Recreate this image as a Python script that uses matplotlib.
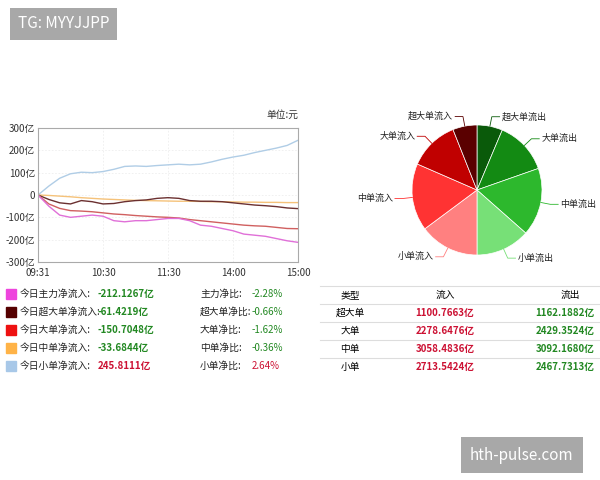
import matplotlib
matplotlib.use("Agg")
import matplotlib.pyplot as plt
import numpy as np

plt.rcParams['font.family'] = ['Noto Sans CJK SC', 'DejaVu Sans']

minutes = list(range(0, 241, 10))
xtick_pos = [0, 60, 120, 180, 240]
xtick_labels = ["09:31", "10:30", "11:30", "14:00", "15:00"]
small = [0, 40, 75, 95, 102, 100, 105, 115, 128, 130, 128, 132, 135, 138, 135, 138, 148, 160, 170, 178, 190, 200, 210, 222, 245]
main = [0, -50, -90, -100, -95, -90, -95, -115, -120, -115, -115, -110, -105, -105, -115, -135, -140, -150, -160, -175, -180, -185, -195, -205, -212]
large = [0, -40, -60, -70, -72, -75, -80, -85, -88, -92, -95, -98, -100, -103, -110, -115, -120, -125, -130, -135, -138, -140, -145, -150, -151]
xlarge = [0, -20, -35, -40, -25, -30, -40, -38, -30, -25, -22, -15, -12, -15, -25, -28, -28, -30, -35, -40, -45, -48, -52, -58, -61]
medium = [0, -2, -5, -8, -12, -15, -18, -20, -22, -24, -25, -26, -27, -28, -28, -29, -30, -30, -31, -32, -32, -33, -33, -34, -34]

legend_labels = ["今日主力净流入:", "今日超大单净流入:", "今日大单净流入:", "今日中单净流入:", "今日小单净流入:"]
legend_values = ["-212.1267亿", "-61.4219亿", "-150.7048亿", "-33.6844亿", "245.8111亿"]
ratio_labels = ["主力净比:", "超大单净比:", "大单净比:", "中单净比:", "小单净比:"]
ratio_values = ["-2.28%", "-0.66%", "-1.62%", "-0.36%", "2.64%"]
legend_colors = ["#ee44dd", "#550000", "#ee1111", "#ffb347", "#a8c8e8"]

pie_labels = ["超大单流出", "大单流出", "中单流出", "小单流出", "小单流入", "中单流入", "大单流入", "超大单流入"]
pie_values = [1162.1882, 2429.3524, 3092.1680, 2467.7313, 2713.5424, 3058.4836, 2278.6476, 1100.7663]
pie_colors = ["#0a5a0a", "#138a13", "#2db82d", "#77e077", "#ff8080", "#ff3333", "#c00000", "#5a0000"]

table_types = ["超大单", "大单", "中单", "小单"]
table_in = ["1100.7663亿", "2278.6476亿", "3058.4836亿", "2713.5424亿"]
table_out = ["1162.1882亿", "2429.3524亿", "3092.1680亿", "2467.7313亿"]

fig = plt.figure(figsize=(6, 4.8), dpi=100)
W, H = 600, 480
def fx(x): return x / W
def fy(y): return 1 - y / H

ax = fig.add_axes([fx(38), fy(262), fx(260), 134 / H])
ax.plot(minutes, small, color="#b0cde6", lw=1)
ax.plot(minutes, medium, color="#f5c27a", lw=1)
ax.plot(minutes, xlarge, color="#6b3030", lw=1)
ax.plot(minutes, large, color="#d06060", lw=1)
ax.plot(minutes, main, color="#e070d8", lw=1)
ax.set_xlim(0, 240)
ax.set_ylim(-300, 300)
ax.set_yticks([-300, -200, -100, 0, 100, 200, 300])
ax.set_yticklabels(["-300亿", "-200亿", "-100亿", "0", "100亿", "200亿", "300亿"])
ax.set_xticks(xtick_pos)
ax.set_xticklabels(xtick_labels)
ax.tick_params(labelsize=7, length=0, pad=2, colors="#333333")
ax.tick_params(axis="x", pad=4)
ax.grid(True, color="#eeeeee", lw=0.6, ls=(0, (2, 2)))
for s in ax.spines.values():
    s.set_color("#aaaaaa"); s.set_linewidth(0.8)
fig.text(fx(298), fy(115), "单位:元", ha="right", va="center", fontsize=7, color="#333333")

for i in range(5):
    y = 294 + 18 * i
    fig.patches.append(plt.Rectangle((fx(6), fy(y + 5)), fx(10), 10 / H, color=legend_colors[i], transform=fig.transFigure))
    fig.text(fx(20), fy(y), legend_labels[i], fontsize=7, va="center", color="#222222")
    vc = "#cc1133" if not legend_values[i].startswith("-") else "#228822"
    fig.text(fx(98), fy(y), legend_values[i], fontsize=7, va="center", color=vc, weight="bold")
    fig.text(fx(200), fy(y), ratio_labels[i], fontsize=7, va="center", color="#222222")
    rc = "#cc1133" if not ratio_values[i].startswith("-") else "#228822"
    fig.text(fx(252), fy(y), ratio_values[i], fontsize=7, va="center", color=rc)

pax = fig.add_axes([fx(412), fy(255), fx(130), 130 / H])
wedges, _ = pax.pie(pie_values, colors=pie_colors, startangle=90, counterclock=False,
                    wedgeprops=dict(edgecolor="white", linewidth=0.5))
pax.set_xlim(-1, 1); pax.set_ylim(-1, 1)
pax.set_aspect("equal")
for w, lab, c in zip(wedges, pie_labels, pie_colors):
    ang = np.deg2rad((w.theta1 + w.theta2) / 2)
    x0, y0 = np.cos(ang), np.sin(ang)
    x1, y1 = 1.15 * x0, 1.15 * y0
    ha = "left" if x0 > 0 else "right"
    x2 = x1 + (0.12 if x0 > 0 else -0.12)
    pax.plot([x0, x1, x2], [y0, y1, y1], color=c, lw=0.6, clip_on=False)
    pax.text(x2 + (0.03 if x0 > 0 else -0.03), y1, lab, ha=ha, va="center", fontsize=6.5, color="#222222")

ys = [295, 313, 331, 349, 367]
fig.text(fx(350), fy(ys[0]), "类型", ha="center", va="center", fontsize=7)
fig.text(fx(445), fy(ys[0]), "流入", ha="center", va="center", fontsize=7)
fig.text(fx(570), fy(ys[0]), "流出", ha="center", va="center", fontsize=7)
for i in range(4):
    y = ys[i + 1]
    fig.text(fx(350), fy(y), table_types[i], ha="center", va="center", fontsize=7)
    fig.text(fx(445), fy(y), table_in[i], ha="center", va="center", fontsize=7, color="#cc1133", weight="bold")
    fig.text(fx(565), fy(y), table_out[i], ha="center", va="center", fontsize=7, color="#228822", weight="bold")
for yl in [286, 304, 322, 340, 358]:
    fig.add_artist(plt.Line2D([fx(320), fx(600)], [fy(yl), fy(yl)], color="#dddddd", lw=0.8))

fig.text(fx(18), fy(24), "TG: MYYJJPP", fontsize=11, color="white", va="center",
         bbox=dict(boxstyle="square,pad=0.5", fc="#a8a8a8", ec="none"))
fig.text(fx(470), fy(455), "hth-pulse.com", fontsize=11, color="white", va="center",
         bbox=dict(boxstyle="square,pad=0.6", fc="#a8a8a8", ec="none"))

fig.savefig("out.png", dpi=100)
